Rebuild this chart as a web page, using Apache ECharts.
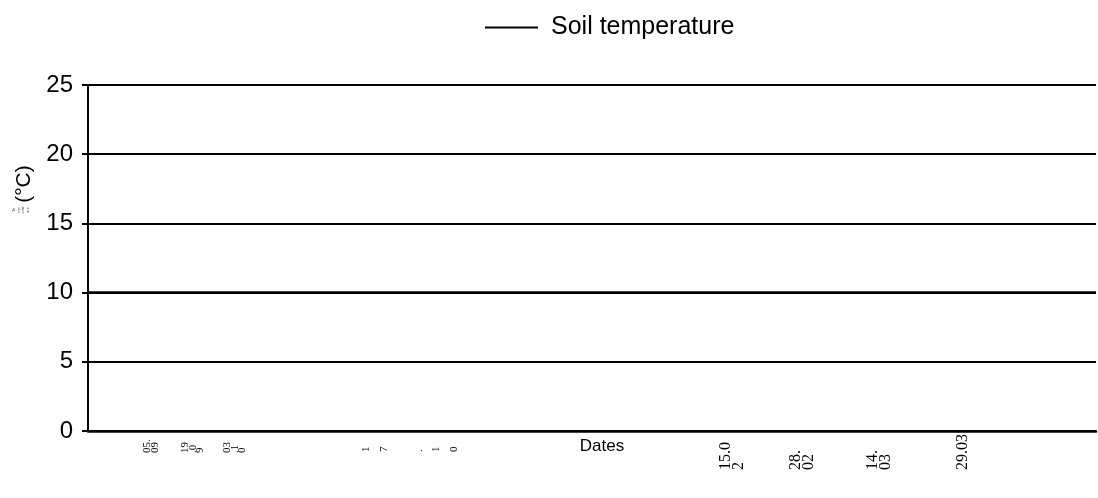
<!DOCTYPE html>
<html>
<head>
<meta charset="utf-8">
<script src="https://cdn.jsdelivr.net/npm/echarts@6/dist/echarts.min.js"></script>
<style>
html,body{margin:0;padding:0;background:#fff;}
#chart{width:1098px;height:498px;}
</style>
</head>
<body>
<div id="chart"></div>
<script>
// ---- data ----
function gap(n){ return Array(n).fill(''); }
// measurement dates along the x axis (blank slots are unlabelled days)
const categories = [].concat(
  gap(9), '05.09', gap(5), '19.09', gap(5), '03.10', gap(24), '17.10',
  gap(45), '15.02', gap(9), '28.02', gap(10), '14.03', gap(11), '29.03', gap(19)
);
// tick label text as it is broken into lines in the picture
const dateLabelText = {
  '05.09': '05.\n09',
  '19.09': '19\n.0\n9',
  '03.10': '03\n.1\n0',
  '17.10': '1\n7\n\n.\n1\n0',
  '15.02': '15.0\n2',
  '28.02': '28.\n02',
  '14.03': '14.\n03',
  '29.03': '29.03'
};
const smallDates = ['05.09', '19.09', '03.10', '17.10'];
// soil temperature (°C): flat at 10 across the whole period
const soilTemp = [[0, 10], [categories.length - 1, 10]];
const yTicks = [0, 5, 10, 15, 20, 25];

// ---- chart ----
const chart = echarts.init(document.getElementById('chart'));
const xData = categories.map(function (c) {
  if (!c) return c;
  if (smallDates.indexOf(c) >= 0) {
    return { value: c, textStyle: c === '17.10'
      ? { fontSize: 11, lineHeight: 17.5, align: 'left', padding: [0, 0, 0, 18] }
      : { fontSize: 11, lineHeight: 7.5, align: 'left', padding: [0, 0, 0, 17] } };
  }
  return { value: c, textStyle: { fontSize: 16, lineHeight: 13, align: 'left' } };
});

chart.setOption({
  animation: false,
  backgroundColor: '#ffffff',
  textStyle: { fontFamily: 'Liberation Sans, Arial, sans-serif', color: '#000' },
  legend: {
    left: 480, top: 10,
    itemWidth: 53, itemHeight: 2, itemGap: 12,
    icon: 'rect',
    textStyle: { fontSize: 25, color: '#000', padding: [0, 0, 0, 8], fontFamily: 'Liberation Sans, Arial, sans-serif' },
    data: ['Soil temperature']
  },
  grid: { left: 88, right: 2, top: 85, bottom: 67, containLabel: false, outerBoundsMode: 'none' },
  graphic: [
    { type: 'text', x: 24, y: 184, rotation: Math.PI / 2,
      style: { text: '(°C)', fontSize: 21, fill: '#000', align: 'center', verticalAlign: 'middle',
               fontFamily: 'Liberation Sans, Arial, sans-serif' } },
    { type: 'text', x: 21, y: 210, rotation: Math.PI / 2,
      style: { text: 'Te\nmp\nerat\nure', fontSize: 4, lineHeight: 4.5, fill: '#555', align: 'center', verticalAlign: 'middle',
               fontFamily: 'Liberation Sans, Arial, sans-serif' } }
  ],
  xAxis: {
    type: 'category',
    data: xData,
    boundaryGap: false,
    name: 'Dates',
    nameLocation: 'middle',
    nameGap: 7,
    nameMoveOverlap: false,
    nameTextStyle: { fontSize: 17, color: '#000', padding: [0, 0, 0, 20], fontFamily: 'Liberation Sans, Arial, sans-serif' },
    axisLine: { show: true, lineStyle: { color: '#000', width: 2.5 } },
    axisTick: { show: false },
    splitLine: { show: false },
    axisLabel: {
      interval: 0,
      rotate: 90,
      margin: 39,
      align: 'left',
      color: '#000',
      fontFamily: 'Liberation Serif, Times New Roman, serif',
      formatter: function (v) { return dateLabelText[v] || ''; }
    }
  },
  yAxis: {
    type: 'value',
    min: yTicks[0], max: yTicks[yTicks.length - 1], interval: 5,
    axisLine: { show: true, lineStyle: { color: '#000', width: 2 } },
    axisTick: { show: true, inside: false, length: 6, lineStyle: { color: '#000', width: 2 } },
    axisLabel: { fontSize: 24, color: '#000', margin: 15, fontFamily: 'Liberation Sans, Arial, sans-serif' },
    splitLine: { show: true, lineStyle: { color: '#000', width: 2 } }
  },
  series: [{
    name: 'Soil temperature',
    type: 'line',
    data: soilTemp,
    showSymbol: false,
    symbol: 'none',
    lineStyle: { color: '#000', width: 2.8 },
    itemStyle: { color: '#000' }
  }]
});
</script>
</body>
</html>
